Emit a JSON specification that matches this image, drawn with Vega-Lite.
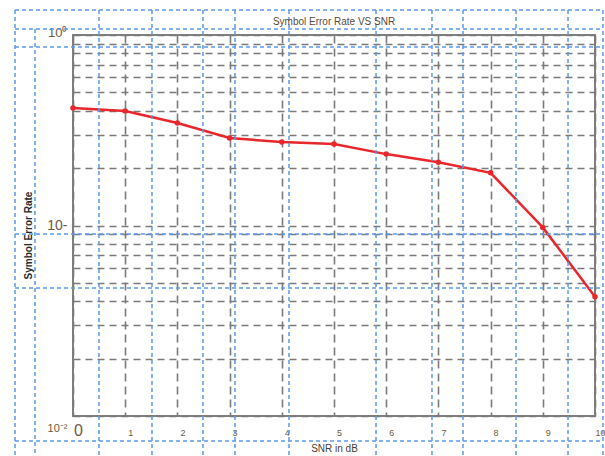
{
  "$schema": "https://vega.github.io/schema/vega-lite/v6.json",
  "width": 522,
  "height": 381,
  "autosize": {"type": "none"},
  "padding": {"left": 73, "top": 35, "right": 10, "bottom": 40},
  "background": "white",
  "config": {
    "view": {"stroke": "#7f7f7f", "strokeWidth": 2},
    "font": "Liberation Sans"
  },
  "title": {
    "text": "Symbol Error Rate VS SNR",
    "fontSize": 10,
    "fontWeight": "normal",
    "color": "#5b4a3c",
    "anchor": "middle",
    "offset": -18
  },
  "datasets": {
    "ser": [
      {"snr": 0, "rate": 0.414},
      {"snr": 1, "rate": 0.399},
      {"snr": 2, "rate": 0.345},
      {"snr": 3, "rate": 0.288},
      {"snr": 4, "rate": 0.274},
      {"snr": 5, "rate": 0.268},
      {"snr": 6, "rate": 0.237},
      {"snr": 7, "rate": 0.215},
      {"snr": 8, "rate": 0.189},
      {"snr": 9, "rate": 0.0977},
      {"snr": 10, "rate": 0.0423}
    ],
    "overlay": [
      {"x1": -1.111, "x2": -1.111, "y1": 1.353, "y2": 0.00616},
      {"x1": -0.728, "x2": -0.728, "y1": 1.075, "y2": 0.00616},
      {"x1": 0.498, "x2": 0.498, "y1": 1.353, "y2": 0.00616},
      {"x1": 1.513, "x2": 1.513, "y1": 1.353, "y2": 0.00616},
      {"x1": 2.49, "x2": 2.49, "y1": 1.353, "y2": 0.00616},
      {"x1": 3.103, "x2": 3.103, "y1": 1.353, "y2": 0.00616},
      {"x1": 4.138, "x2": 4.138, "y1": 1.353, "y2": 0.00616},
      {"x1": 5.805, "x2": 5.805, "y1": 1.353, "y2": 0.00616},
      {"x1": 6.877, "x2": 6.877, "y1": 1.353, "y2": 0.00616},
      {"x1": 7.471, "x2": 7.471, "y1": 1.353, "y2": 0.00616},
      {"x1": 8.487, "x2": 8.487, "y1": 1.353, "y2": 0.00616},
      {"x1": 9.483, "x2": 9.483, "y1": 1.353, "y2": 0.00616},
      {"x1": 10.153, "x2": 10.153, "y1": 1.353, "y2": 0.00616},
      {"x1": -1.111, "x2": 10.153, "y1": 1.353, "y2": 1.353},
      {"x1": -1.111, "x2": 10.153, "y1": 1.075, "y2": 1.075},
      {"x1": -1.111, "x2": 10.153, "y1": 0.865, "y2": 0.865},
      {"x1": -1.111, "x2": 10.153, "y1": 0.0902, "y2": 0.0902},
      {"x1": -1.111, "x2": 10.153, "y1": 0.047, "y2": 0.047},
      {"x1": -1.111, "x2": 10.153, "y1": 0.00739, "y2": 0.00739}
    ]
  },
  "layer": [
    {
      "data": {"name": "ser"},
      "mark": {"type": "line", "color": "#e8262b", "strokeWidth": 2.5, "point": {"filled": true, "size": 30, "color": "#e8262b"}},
      "encoding": {
        "x": {
          "field": "snr",
          "type": "quantitative",
          "title": "SNR in dB",
          "scale": {"domain": [0, 10], "nice": false, "zero": false},
          "axis": {
            "title": "SNR in dB",
            "titleFontSize": 10,
            "titleFontWeight": "normal",
            "titleColor": "#4a4038",
            "titlePadding": 5,
            "values": [0, 1, 2, 3, 4, 5, 6, 7, 8, 9, 10],
            "labelFontSize": {"condition": {"test": "datum.value === 0", "value": 16}, "value": 9},
            "labelColor": "#6b5a40",
            "labelBaseline": "alphabetic",
            "labelPadding": 19,
            "labelOffset": 5,
            "labelFlush": false,
            "labelOverlap": false,
            "ticks": false,
            "domain": false,
            "grid": true,
            "gridColor": "#7a7a7a",
            "gridWidth": 1.6,
            "gridDash": [8, 5]
          }
        },
        "y": {
          "field": "rate",
          "type": "quantitative",
          "title": "Symbol Error Rate",
          "scale": {"type": "log", "domain": [0.01, 1], "nice": false},
          "axis": {
            "title": "Symbol Error Rate",
            "titleFontSize": 10,
            "titleFontWeight": "bold",
            "titleColor": "#2a2a2a",
            "titlePadding": 13,
            "titleY": 200,
            "values": [0.01, 0.02, 0.03, 0.04, 0.05, 0.06, 0.07, 0.08, 0.09, 0.1, 0.2, 0.3, 0.4, 0.5, 0.6, 0.7, 0.8, 0.9, 1],
            "labelExpr": "datum.value == 1 ? '10⁰' : datum.value == 0.1 ? '10-' : datum.value == 0.01 ? '10⁻²' : ''",
            "labelFontSize": {"condition": [{"test": "datum.value == 0.1", "value": 14}, {"test": "datum.value == 1", "value": 13}], "value": 11},
            "labelColor": "#6b5a40",
            "labelPadding": 6,
            "labelOffset": {"condition": [{"test": "datum.value == 0.01", "value": 12}, {"test": "datum.value == 1", "value": -3}], "value": 0},
            "labelFlush": false,
            "labelOverlap": false,
            "ticks": false,
            "domain": false,
            "grid": true,
            "gridColor": "#7a7a7a",
            "gridWidth": 1.6,
            "gridDash": [7, 5]
          }
        }
      }
    },
    {
      "data": {"name": "overlay"},
      "mark": {"type": "rule", "clip": false, "color": "#5b9bea", "strokeDash": [4, 3], "strokeWidth": 1.5},
      "encoding": {
        "x": {"field": "x1", "type": "quantitative", "title": "SNR in dB", "scale": {"domain": [0, 10], "nice": false, "zero": false}},
        "x2": {"field": "x2"},
        "y": {"field": "y1", "type": "quantitative", "title": "Symbol Error Rate", "scale": {"type": "log", "domain": [0.01, 1], "nice": false}},
        "y2": {"field": "y2"}
      }
    }
  ]
}
